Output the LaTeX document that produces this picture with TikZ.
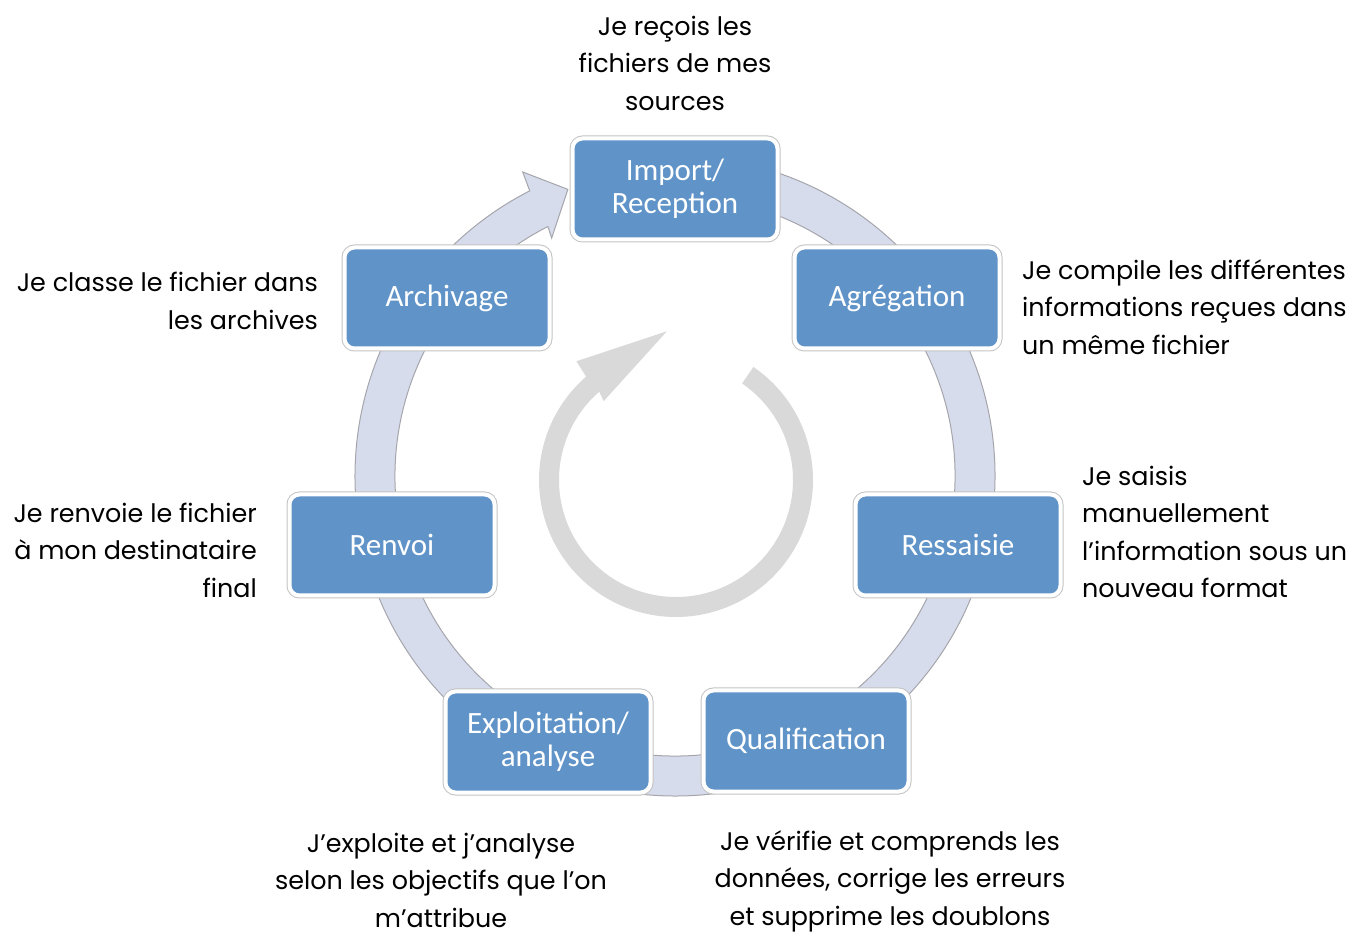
\documentclass[tikz,border=0pt]{standalone}
\usepackage{fontspec}
\setmainfont{Poppins}
\newfontfamily\boxfont{Carlito}
\definecolor{boxblue}{RGB}{96,148,200}
\definecolor{boxedge}{RGB}{195,195,195}
\definecolor{ringfill}{RGB}{214,220,236}
\definecolor{ringedge}{RGB}{165,165,172}
\definecolor{centregrey}{RGB}{217,217,217}
\begin{document}
\begin{tikzpicture}[x=1pt,y=1pt,
  stagebox/.style={rectangle, rounded corners=10pt, fill=boxblue, draw=white, line width=4pt,
    preaction={draw=boxedge, line width=6pt},
    minimum width=205pt, minimum height=101pt, inner sep=0pt,
    text=white, font=\boxfont\fontsize{31}{33}\selectfont, align=center},
  desc/.style={font=\fontsize{25.4}{37.5}\selectfont, text=black, inner sep=0pt}]
\useasboundingbox (0,0) rectangle (1352,935);

% outer cycle band with its single arrow head
\begin{scope}[shift={(675,459)}]
  \filldraw[fill=ringfill, draw=ringedge, line width=1pt]
    (85:320) arc[start angle=85, end angle=-243, radius=320]
    -- (-243.4:340) -- (-249.5:306) -- (-242.6:268) -- (-243:280)
    arc[start angle=-243, end angle=85, radius=280] -- cycle;
\end{scope}

% central circular arrow
\begin{scope}[shift={(676,455)}]
  \fill[centregrey]
    (55.6:137) arc[start angle=55.6, end angle=-229, radius=137]
    -- (130:155) -- (93.5:149) -- (132.5:107) -- (131:117)
    arc[start angle=-229, end angle=55.6, radius=117] -- cycle;
\end{scope}

% stages
\node[stagebox] (import) at (675,746) {Import/\\Reception};
\node[stagebox] (aggr)   at (897,637) {Agrégation};
\node[stagebox] (resai)  at (958,390) {Ressaisie};
\node[stagebox] (qualif) at (806,194) {Qualification};
\node[stagebox] (exploi) at (548,193) {Exploitation/\\analyse};
\node[stagebox] (renvoi) at (392,390) {Renvoi};
\node[stagebox] (archiv) at (447,637) {Archivage};

% descriptions
\node[desc, align=center] (dimport) at (675,872) {Je reçois les\\fichiers de mes\\sources};
\node[desc, align=left, anchor=west] (daggr) at (1022,628) {Je compile les différentes\\informations reçues dans\\un même fichier};
\node[desc, align=left, anchor=west] (dresai) at (1082,403) {Je saisis\\manuellement\\l’information sous un\\nouveau format};
\node[desc, align=center] (dqualif) at (890,54) {Je vérifie et comprends les\\données, corrige les erreurs\\et supprime les doublons};
\node[desc, align=center] (dexploi) at (441,55) {J’exploite et j’analyse\\selon les objectifs que l’on\\m’attribue};
\node[desc, align=right, anchor=east] (drenvoi) at (257,385) {Je renvoie le fichier\\à mon destinataire\\final};
\node[desc, align=right, anchor=east] (darchiv) at (318,634) {Je classe le fichier dans\\les archives};
\end{tikzpicture}
\end{document}
